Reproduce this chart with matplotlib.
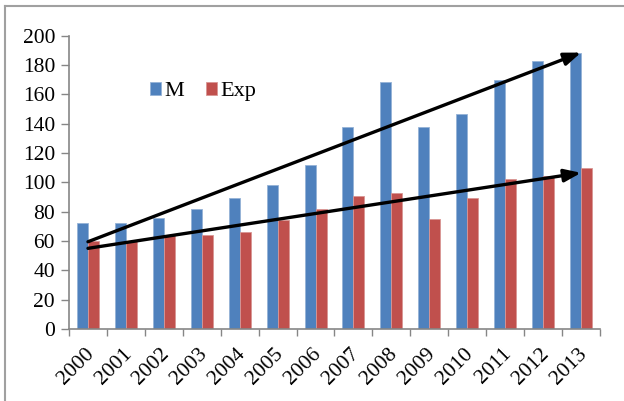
import numpy as np
import matplotlib
matplotlib.use('Agg')
from matplotlib import pyplot as plt
from matplotlib.lines import Line2D

years = ['2000', '2001', '2002', '2003', '2004', '2005', '2006',
         '2007', '2008', '2009', '2010', '2011', '2012', '2013']
m_vals = [72, 72, 75.5, 81.5, 89, 98, 112, 138, 168.5, 138, 146.5, 170, 182.5, 188.5]
exp_vals = [60, 60, 64, 64, 66, 74, 81.5, 91, 92.5, 75, 89.5, 102.5, 104.5, 109.5]

# trend arrows (start, end) in category index / value
arrow_m = [(0, 59.5), (13, 188.5)]
arrow_exp = [(0, 55), (13, 106.5)]

plt.rcParams['font.family'] = ['Liberation Serif', 'DejaVu Serif']

fig = plt.figure(figsize=(6.24, 4.01), dpi=100)
ax = fig.add_axes([69/624, 1-329/401, 531/624, (329-35.7)/401])

x = np.arange(len(years))
w = 0.29
ax.bar(x - w/2, m_vals, w, color='#4F81BD', edgecolor='#95B3D7', linewidth=0.6, label='M')
ax.bar(x + w/2, exp_vals, w, color='#C0504D', edgecolor='#D99694', linewidth=0.6, label='Exp')

for a in (arrow_m, arrow_exp):
    ax.annotate('', xy=a[1], xytext=a[0],
                arrowprops=dict(arrowstyle='-|>,head_length=1.0,head_width=0.38',
                                color='black', lw=2.4, shrinkA=0, shrinkB=0))

ax.set_xlim(-0.5, len(years) - 0.5)
ax.set_ylim(0, 200)
ax.set_yticks(range(0, 201, 20))
ax.tick_params(axis='y', labelsize=15.5, length=6, color='#868686', width=1, pad=4)

ax.set_xticks(x + 0.08)
ax.set_xticklabels(years, rotation=45, ha='right', va='center', rotation_mode='anchor', fontsize=15.5)
ax.tick_params(axis='x', length=0, pad=16)
ax.set_xticks(np.arange(-0.5, len(years), 1), minor=True)
ax.tick_params(axis='x', which='minor', length=5, color='#868686', width=1)

for s in ['top', 'right']:
    ax.spines[s].set_visible(False)
for s in ['left', 'bottom']:
    ax.spines[s].set_color('#868686')
    ax.spines[s].set_linewidth(1.2)

ax.legend(loc='center left', bbox_to_anchor=(0.1525, 0.809), ncol=2, frameon=False,
          fontsize=16, handlelength=0.48, handleheight=0.48, handletextpad=0.15,
          columnspacing=1.0, borderpad=0, borderaxespad=0)

# outer chart border (top and left visible)
fig.add_artist(Line2D([5/624, 5/624], [0, 1-5.5/401], color='#A0A0A0', lw=1.5, transform=fig.transFigure))
fig.add_artist(Line2D([5/624, 1], [1-5.5/401, 1-5.5/401], color='#A0A0A0', lw=1.5, transform=fig.transFigure))

fig.savefig('out.png', dpi=100)
